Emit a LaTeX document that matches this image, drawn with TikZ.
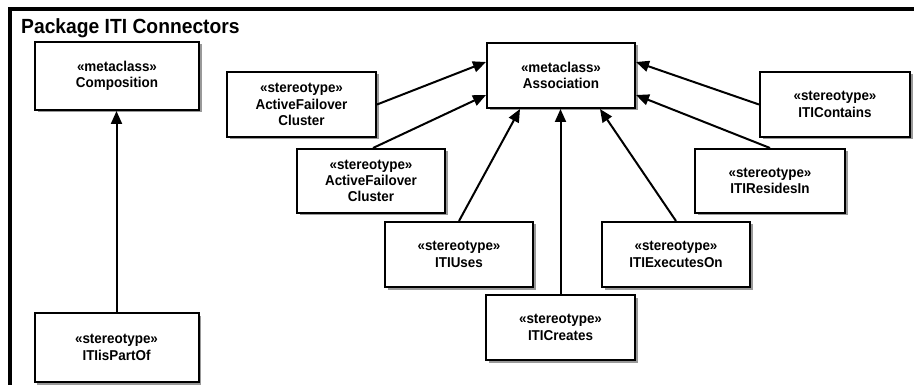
\documentclass[tikz,border=0pt]{standalone}
\usepackage{fontspec}
\setmainfont{Liberation Sans}
\newfontfamily\narrowsans[FakeStretch=0.94]{Liberation Sans}
\usetikzlibrary{arrows.meta,shadows,calc}
\tikzset{
  umlbox/.style={draw=black, line width=2pt, fill=white, inner sep=0pt,
    align=center, font=\narrowsans\bfseries\fontsize{14.3}{16.3}\selectfont,
    drop shadow={shadow xshift=2.5pt,shadow yshift=-2.5pt,fill=black!40,opacity=1}},
  gen/.style={line width=2pt, -{Triangle[length=13pt,width=11pt]}},
}
\begin{document}
\begin{tikzpicture}[x=1pt,y=-1pt]
\useasboundingbox (0,0) rectangle (914,385);
\clip (0,0) rectangle (914,385);
\fill[white] (0,0) rectangle (914,385);
\draw[line width=3.4pt] (10,400) -- (10,9) -- (930,9);
\node[anchor=base west, font=\narrowsans\bfseries\fontsize{20.5}{22}\selectfont, inner sep=0pt] (title) at (21,34) {Package ITI Connectors};

\node[umlbox, minimum width=164pt, minimum height=68pt] (comp) at (117,76) {«metaclass»\\Composition};
\node[umlbox, minimum width=148pt, minimum height=65pt] (assoc) at (561,75.5) {«metaclass»\\Association};
\node[umlbox, minimum width=149pt, minimum height=65pt] (afc1) at (301.5,104.5) {«stereotype»\\ActiveFailover\\Cluster};
\node[umlbox, minimum width=148pt, minimum height=64pt] (afc2) at (371,181) {«stereotype»\\ActiveFailover\\Cluster};
\node[umlbox, minimum width=150pt, minimum height=65pt] (contains) at (835,104.5) {«stereotype»\\ITIContains};
\node[umlbox, minimum width=150pt, minimum height=64pt] (resides) at (770,181) {«stereotype»\\ITIResidesIn};
\node[umlbox, minimum width=148pt, minimum height=65pt] (uses) at (459,254.5) {«stereotype»\\ITIUses};
\node[umlbox, minimum width=148pt, minimum height=65pt] (exec) at (676,254.5) {«stereotype»\\ITIExecutesOn};
\node[umlbox, minimum width=149pt, minimum height=65pt] (creates) at (560.5,327.5) {«stereotype»\\ITICreates};
\node[umlbox, minimum width=164pt, minimum height=69pt] (part) at (116.5,347.5) {«stereotype»\\ITIisPartOf};

\draw[gen] (part.north) -- (part.north |- comp.south);
\draw[gen] (afc1.east) -- ([yshift=13.5pt]assoc.west);
\draw[gen] ([xshift=2pt]afc2.north) -- ([yshift=-19.5pt]assoc.west);
\draw[gen] (uses.north) -- ([xshift=-41pt]assoc.south);
\draw[gen] (creates.north) -- (creates.north |- assoc.south);
\draw[gen] (exec.north) -- ([xshift=39pt]assoc.south);
\draw[gen] (contains.west) -- ([yshift=13.5pt]assoc.east);
\draw[gen] (resides.north) -- ([yshift=-19.5pt]assoc.east);
\end{tikzpicture}
\end{document}
